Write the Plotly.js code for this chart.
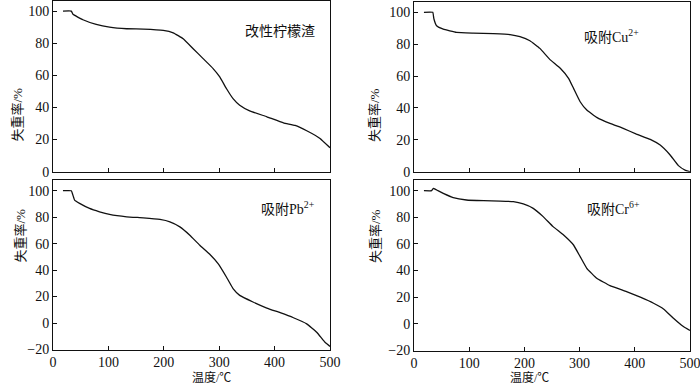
<!DOCTYPE html>
<html>
<head>
<meta charset="utf-8">
<script src="https://cdn.plot.ly/plotly-3.0.1.min.js"></script>
<style>html,body{margin:0;padding:0;background:#fff;}#chart{width:700px;height:385px;}</style>
</head>
<body>
<div id="chart"></div>
<script>
// Temperature (°C) and mass-loss readings for each sample
const tempA = [18, 33, 36, 54, 78, 102, 133, 163, 199, 217, 235, 253, 271, 289, 301, 313, 325, 337, 355, 386, 416, 437, 458, 482, 500];
const lossA = [100, 100, 98, 94.6, 91.7, 90, 89, 88.8, 88, 86.5, 82.8, 76.6, 70.4, 64.2, 59, 51.8, 45.5, 41.4, 37.9, 34.2, 30.4, 28.8, 25.5, 20.7, 14.9];

const tempCu = [18, 34, 36, 41, 53, 77, 107, 144, 174, 192, 210, 228, 246, 265, 280, 289, 301, 313, 331, 355, 379, 403, 428, 446, 464, 479, 491, 500];
const lossCu = [100, 100, 96, 91.6, 89.5, 87.5, 87, 86.6, 86, 84.7, 82.2, 77.4, 70.5, 64.9, 58.6, 52.3, 43.9, 38.7, 34.1, 30.3, 27.2, 23.6, 20.3, 16.7, 10.5, 3.8, 1.0, 0];

const tempPb = [18, 33, 39, 48, 66, 84, 102, 133, 163, 193, 211, 229, 247, 265, 283, 298, 313, 325, 337, 361, 386, 410, 434, 458, 476, 491, 500];
const lossPb = [100, 100, 92.9, 90.4, 86.6, 84.1, 82.1, 80.3, 79.5, 78.3, 76.5, 72.7, 66.4, 58.8, 52, 44.9, 34.8, 26, 20.9, 15.9, 11.3, 7.8, 4, -0.6, -6.9, -14.5, -17.7];

const tempCr = [18, 32, 35, 41, 53, 71, 95, 126, 156, 180, 198, 216, 234, 252, 271, 289, 301, 313, 331, 355, 385, 410, 434, 452, 470, 488, 500];
const lossCr = [100, 100, 101.7, 100.5, 98, 94.8, 93, 92.5, 92.2, 91.7, 90, 86.7, 80.5, 73, 66.7, 59.2, 50.5, 41.7, 34.2, 28.7, 24.2, 20, 15.5, 11.2, 4.2, -2, -5];

const panelLabels = ['改性柠檬渣', '吸附Cu<sup>2+</sup>', '吸附Pb<sup>2+</sup>', '吸附Cr<sup>6+</sup>'];
const xTitle = '温度/℃';
const yTitle = '失重率/%';
const xTicks = [0, 100, 200, 300, 400, 500];
const yTicksTop = [0, 20, 40, 60, 80, 100];
const yTicksBottom = [-20, 0, 20, 40, 60, 80, 100];

const FONT = 'Liberation Serif, Times New Roman, Noto Sans CJK SC, serif';
const W = 700, H = 385;
const px = v => v / W;
const py = v => 1 - v / H;

function line(x, y, xa, ya) {
  return {x: x, y: y, xaxis: xa, yaxis: ya, mode: 'lines', type: 'scatter',
    line: {color: '#111', width: 1.3, shape: 'spline', smoothing: 0.3}, hoverinfo: 'skip', showlegend: false};
}

const data = [
  line(tempA, lossA, 'x', 'y'),
  line(tempCu, lossCu, 'x2', 'y2'),
  line(tempPb, lossPb, 'x3', 'y3'),
  line(tempCr, lossCr, 'x4', 'y4')
];

function xax(dom, anchor, labels) {
  return {domain: dom, anchor: anchor, range: [0, 500], tickvals: xTicks, ticks: 'inside', ticklen: 4,
    tickcolor: '#111', showticklabels: labels, showline: true, mirror: true, linecolor: '#111', linewidth: 1,
    showgrid: false, zeroline: false, ticklabeloverflow: 'allow', automargin: false,
    tickfont: {family: FONT, size: 14, color: '#111'}};
}
function yax(dom, anchor, range, ticks) {
  return {domain: dom, anchor: anchor, range: range, tickvals: ticks, ticks: 'inside', ticklen: 4,
    tickcolor: '#111', showline: true, mirror: true, linecolor: '#111', linewidth: 1,
    showgrid: false, zeroline: false, ticklabeloverflow: 'allow', automargin: false,
    tickfont: {family: FONT, size: 14, color: '#111'}};
}

const leftX = [px(53), px(330)];
const rightX = [px(414), px(690)];

const layout = {
  width: W, height: H,
  margin: {l: 0, r: 0, t: 0, b: 0},
  paper_bgcolor: '#fff', plot_bgcolor: '#fff',
  font: {family: FONT, color: '#111'},
  xaxis: xax(leftX, 'y', false),
  yaxis: yax([py(171.7), py(0.5)], 'x', [0, 106.6], yTicksTop),
  xaxis2: xax(rightX, 'y2', false),
  yaxis2: yax([py(171.7), py(2)], 'x2', [0, 106.5], yTicksTop),
  xaxis3: xax(leftX, 'y3', true),
  yaxis3: yax([py(349.5), py(180)], 'x3', [-20, 108.1], yTicksBottom),
  xaxis4: xax(rightX, 'y4', true),
  yaxis4: yax([py(350.5), py(180)], 'x4', [-20, 108], yTicksBottom),
  annotations: [
    {text: panelLabels[0], xref: 'paper', yref: 'paper', x: px(280), y: py(22), showarrow: false, font: {family: FONT, size: 14}},
    {text: panelLabels[1], xref: 'paper', yref: 'paper', x: px(641), y: py(25), showarrow: false, font: {family: FONT, size: 14}},
    {text: panelLabels[2], xref: 'paper', yref: 'paper', x: px(288), y: py(208), showarrow: false, font: {family: FONT, size: 14}},
    {text: panelLabels[3], xref: 'paper', yref: 'paper', x: px(642), y: py(208), showarrow: false, font: {family: FONT, size: 14}},
    {text: yTitle, xref: 'paper', yref: 'paper', x: px(8), y: py(86), showarrow: false, textangle: -90, font: {family: FONT, size: 13}},
    {text: yTitle, xref: 'paper', yref: 'paper', x: px(375), y: py(86), showarrow: false, textangle: -90, font: {family: FONT, size: 13}},
    {text: yTitle, xref: 'paper', yref: 'paper', x: px(10), y: py(265), showarrow: false, textangle: -90, font: {family: FONT, size: 13}},
    {text: yTitle, xref: 'paper', yref: 'paper', x: px(375), y: py(265), showarrow: false, textangle: -90, font: {family: FONT, size: 13}},
    {text: xTitle, xref: 'paper', yref: 'paper', x: px(190), y: -0.004, yanchor: 'bottom', showarrow: false, font: {family: FONT, size: 12}},
    {text: xTitle, xref: 'paper', yref: 'paper', x: px(551), y: -0.004, yanchor: 'bottom', showarrow: false, font: {family: FONT, size: 12}}
  ]
};

Plotly.newPlot('chart', data, layout, {staticPlot: true, displayModeBar: false});
</script>
</body>
</html>
